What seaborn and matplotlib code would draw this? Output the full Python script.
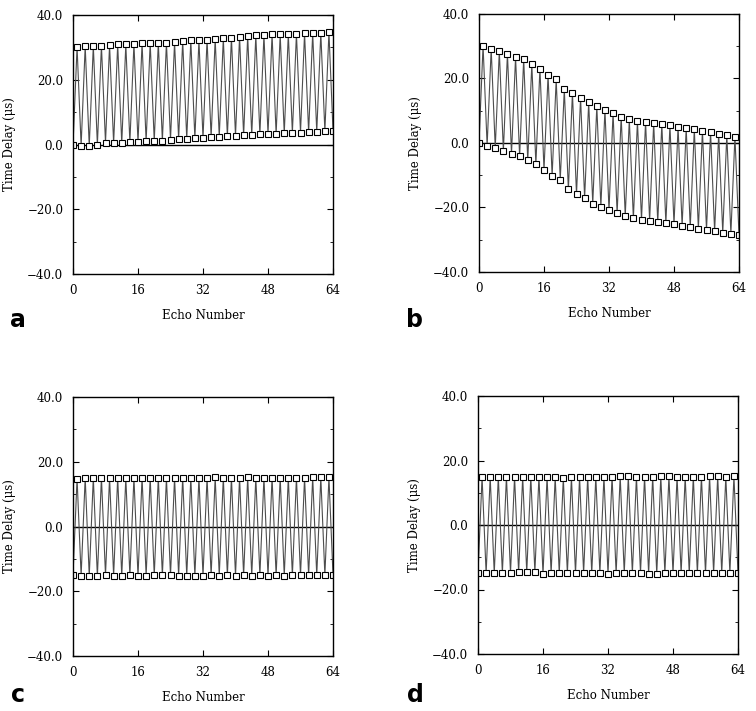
import numpy as np
import pandas as pd
import seaborn as sns
import matplotlib.pyplot as plt

# Time delay (us) per echo; odd echoes are the upper points, even echoes the lower ones
a_odd = [30.1, 30.4, 30.5, 30.5, 30.7, 30.9, 30.9, 31.1, 31.3, 31.4, 31.4, 31.5,
         31.6, 32.0, 32.2, 32.2, 32.4, 32.6, 32.8, 33.0, 33.3, 33.5, 33.7, 33.8,
         34.0, 34.0, 34.1, 34.2, 34.4, 34.4, 34.5, 34.7]
a_even = [-0.2, -0.4, -0.5, -0.1, 0.6, 0.4, 0.4, 0.7, 0.8, 1.0, 1.1, 1.2, 1.5,
          1.7, 1.8, 1.9, 2.0, 2.3, 2.4, 2.5, 2.7, 2.8, 2.9, 3.1, 3.3, 3.2, 3.4,
          3.6, 3.7, 3.8, 3.9, 4.1, 4.3]

b_odd = [30.2, 29.2, 28.5, 27.7, 26.6, 26.0, 24.4, 23.1, 21.0, 19.7, 16.6, 15.5,
         14.0, 12.6, 11.4, 10.3, 9.3, 8.2, 7.3, 6.8, 6.6, 6.2, 5.9, 5.5, 5.0, 4.6,
         4.3, 3.8, 3.4, 2.9, 2.5, 2.0]
b_even = [0.0, -0.8, -1.5, -2.4, -3.3, -4.1, -5.4, -6.5, -8.3, -10.2, -11.4,
          -14.4, -15.9, -17.0, -18.8, -19.7, -20.8, -21.8, -22.6, -23.4, -23.8,
          -24.1, -24.6, -24.9, -25.2, -25.7, -26.2, -26.6, -27.0, -27.4, -27.8,
          -28.1, -28.6]

c_odd = [14.8, 15.1, 15.1, 15.1, 15.1, 15.1, 15.0, 15.1, 15.1, 15.1, 15.1, 15.0,
         15.1, 15.1, 15.1, 15.1, 15.1, 15.2, 15.1, 15.1, 15.1, 15.2, 15.1, 15.1,
         15.1, 15.1, 15.1, 15.1, 15.1, 15.2, 15.2, 15.2]
c_even = [-15.0, -15.2, -15.3, -15.4, -15.0, -15.2, -15.3, -15.1, -15.3, -15.2,
          -15.1, -15.1, -15.1, -15.2, -15.2, -15.2, -15.2, -15.1, -15.2, -15.1,
          -15.2, -15.1, -15.2, -15.1, -15.2, -15.1, -15.2, -15.1, -15.1, -15.1,
          -15.1, -15.0, -15.0]

d_odd = [14.9, 14.9, 15.0, 15.0, 15.0, 14.9, 15.0, 15.0, 14.9, 14.9, 14.6, 14.8,
         14.8, 14.9, 15.0, 15.0, 15.0, 15.1, 15.1, 15.0, 15.0, 15.0, 15.1, 15.1,
         15.0, 15.0, 15.0, 15.0, 15.1, 15.1, 15.0, 15.1]
d_even = [-14.9, -15.0, -15.0, -14.9, -14.9, -14.7, -14.7, -14.6, -15.3, -15.0,
          -15.0, -15.0, -15.0, -14.9, -15.0, -15.0, -15.1, -15.0, -14.9, -14.9,
          -14.9, -15.1, -15.1, -15.0, -15.0, -15.0, -15.0, -15.0, -15.0, -14.9,
          -14.9, -14.9, -14.9]

panels = {"a": (a_even, a_odd), "b": (b_even, b_odd),
          "c": (c_even, c_odd), "d": (d_even, d_odd)}

sns.set_style("ticks")
plt.rcParams["font.family"] = ["DejaVu Serif"]
plt.rcParams["text.color"] = "black"
plt.rcParams["axes.labelcolor"] = "black"
plt.rcParams["xtick.color"] = "black"
plt.rcParams["ytick.color"] = "black"

fig = plt.figure(figsize=(7.56, 7.11), dpi=100)
W, H = 756, 711
# pixel boxes: left, top, right, bottom
boxes = {"a": (73, 15, 333, 274), "b": (479, 14, 739, 272),
         "c": (73, 397, 333, 656), "d": (478, 396, 738, 654)}

for key, (even, odd) in panels.items():
    y = np.empty(65)
    y[0::2] = even
    y[1::2] = odd
    df = pd.DataFrame({"echo": np.arange(65), "delay": y})

    l, t, r, b = boxes[key]
    ax = fig.add_axes([l / W, 1 - b / H, (r - l) / W, (b - t) / H])
    ax.axhline(0, color="black", lw=1.0, zorder=1)
    sns.lineplot(data=df, x="echo", y="delay", ax=ax, color="#4d4d4d",
                 linewidth=0.8, marker="s", markersize=4,
                 markerfacecolor="white", markeredgecolor="black",
                 markeredgewidth=0.8, zorder=2)
    ax.set_xlim(0, 64)
    ax.set_ylim(-40, 40)
    ax.set_xticks([0, 16, 32, 48, 64])
    ax.set_yticks([-40, -20, 0, 20, 40])
    ax.set_yticklabels(["\u221240.0", "\u221220.0", "0.0", "20.0", "40.0"])
    ax.set_yticks([-30, -10, 10, 30], minor=True)
    ax.tick_params(direction="in", top=True, right=True, length=4, width=0.8,
                   labelsize=8.5, pad=7)
    ax.tick_params(which="minor", direction="in", left=True, right=True,
                   length=2.5, width=0.6)
    for s in ax.spines.values():
        s.set_linewidth(1.0)
        s.set_color("black")
    ax.set_xlabel("Echo Number", fontsize=8.5, labelpad=9)
    ax.set_ylabel("Time Delay (\u03bcs)", fontsize=8.5, labelpad=8)

    lx = 18 if key in "ac" else 415
    ly = 320 if key in "ab" else 695
    fig.text(lx / W, 1 - ly / H, key, fontsize=17, fontweight="bold",
             family="DejaVu Sans", ha="center", va="center", color="black")

fig.savefig("out.png", dpi=100, facecolor="white")
